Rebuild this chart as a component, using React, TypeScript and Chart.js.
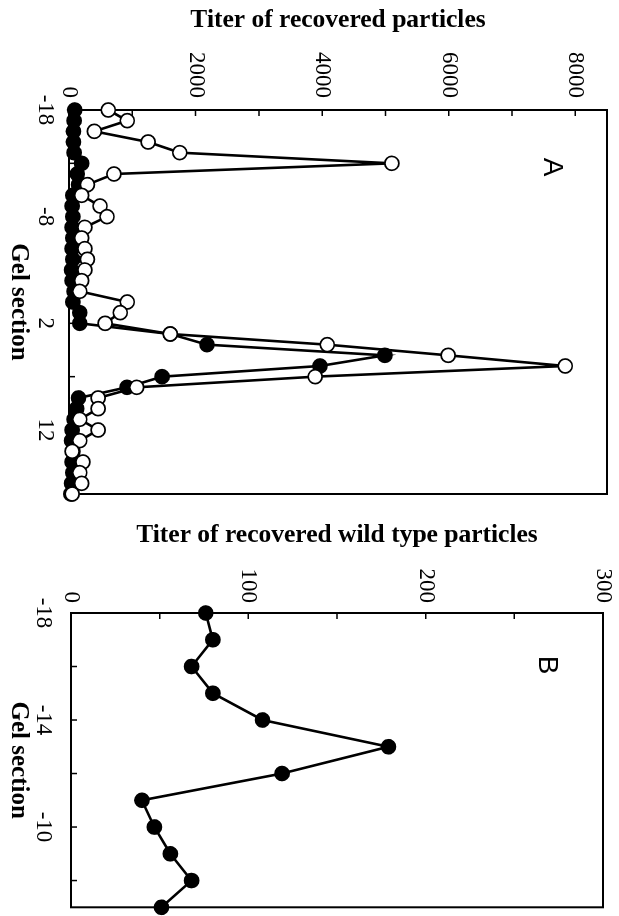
import React, { useEffect, useRef } from 'react';
import { Chart, registerables } from 'chart.js';

Chart.register(...registerables);

// ---------- Data ----------
const gelSectionsA = [-18, -17, -16, -15, -14, -13, -12, -11, -10, -9, -8, -7, -6, -5, -4, -3, -2, -1, 0, 1, 2, 3, 4, 5, 6, 7, 8, 9, 10, 11, 12, 13, 14, 15, 16, 17, 18];
const titerOpenA = [620, 920, 400, 1250, 1750, 5100, 710, 290, 200, 490, 600, 250, 200, 250, 290, 250, 200, 170, 920, 810, 570, 1600, 4080, 5990, 7840, 3890, 1070, 460, 460, 170, 460, 170, 50, 220, 170, 200, 50];
const titerFilledA = [90, 80, 70, 70, 80, 200, 130, 150, 60, 50, 60, 50, 60, 50, 60, 40, 50, 80, 60, 170, 170, 1600, 2180, 4990, 3965, 1470, 916, 150, 120, 80, 50, 40, 60, 50, 60, 40, 30];

const gelSectionsB = [-18, -17, -16, -15, -14, -13, -12, -11, -10, -9, -8, -7];
const titerWildB = [76, 80, 68, 80, 108, 179, 119, 40, 47, 56, 68, 51];

// tick marks / labels
const tickMarksAx = [-18, -13, -8, -3, 2, 7, 12, 17];
const tickLabelsAx = [-18, -8, 2, 12];
const tickMarksAy = [0, 1000, 2000, 3000, 4000, 5000, 6000, 7000, 8000];
const tickLabelsAy = [0, 2000, 4000, 6000, 8000];
const tickMarksBx = [-18, -16, -14, -12, -10, -8];
const tickLabelsBx = [-18, -14, -10];
const tickMarksBy = [0, 50, 100, 150, 200, 250, 300];
const tickLabelsBy = [0, 100, 200, 300];

const SERIF = '"Liberation Serif", "Times New Roman", Times, serif';

const frameTicks = {
  id: 'frameTicks',
  beforeDatasetsDraw(chart: any) {
    const { ctx, chartArea } = chart;
    const { left, right, top, bottom } = chartArea;
    const x = chart.scales.x;
    const y = chart.scales.y;
    ctx.save();
    ctx.strokeStyle = '#000';
    ctx.lineWidth = 2;
    ctx.strokeRect(left, top, right - left, bottom - top);
    ctx.lineWidth = 1.5;
    ctx.beginPath();
    x.ticks.forEach((t: any) => {
      const px = x.getPixelForValue(t.value);
      ctx.moveTo(px, bottom);
      ctx.lineTo(px, bottom - 6);
    });
    y.ticks.forEach((t: any) => {
      const py = y.getPixelForValue(t.value);
      ctx.moveTo(left, py);
      ctx.lineTo(left + 6, py);
    });
    ctx.stroke();
    ctx.restore();
  },
};

const panelLabel = {
  id: 'panelLabel',
  afterDraw(chart: any, _args: any, opts: any) {
    if (!opts || !opts.text) return;
    const { ctx, chartArea } = chart;
    ctx.save();
    ctx.font = '28px "Liberation Sans", Arial, sans-serif';
    ctx.fillStyle = '#000';
    ctx.textAlign = 'center';
    ctx.textBaseline = 'middle';
    ctx.fillText(opts.text, chartArea.left + opts.dx, chartArea.top + opts.dy);
    ctx.restore();
  },
};

function zeroPad(scale: any) {
  scale.paddingTop = 0;
  scale.paddingBottom = 0;
  scale.paddingLeft = 0;
  scale.paddingRight = 0;
}

function makeConfig(p: any): any {
  return {
    type: 'scatter',
    data: { datasets: p.datasets },
    plugins: [frameTicks, panelLabel],
    options: {
      responsive: false,
      animation: false,
      devicePixelRatio: 1,
      layout: { padding: { left: 0, right: p.padRight, top: p.padTop, bottom: 0 } },
      plugins: {
        legend: { display: false },
        tooltip: { enabled: false },
        panelLabel: p.label,
      },
      scales: {
        x: {
          type: 'linear',
          position: 'bottom',
          min: p.xMin,
          max: p.xMax,
          afterBuildTicks: (scale: any) => {
            scale.ticks = p.xTicks.map((v: number) => ({ value: v }));
          },
          afterFit: (scale: any) => {
            scale.height = p.xHeight;
            zeroPad(scale);
          },
          grid: { display: false, drawTicks: false },
          border: { display: false },
          ticks: {
            autoSkip: false,
            maxRotation: 0,
            minRotation: 0,
            padding: p.xTickPad,
            color: '#000',
            font: { family: SERIF, size: 23 },
            callback: (v: number) => (p.xLabels.includes(v) ? String(v) : ''),
          },
          title: {
            display: true,
            text: 'Gel section',
            color: '#000',
            font: { family: SERIF, size: 25, weight: 'bold' },
            padding: { top: 0, bottom: 3 },
          },
        },
        y: {
          type: 'linear',
          position: 'left',
          min: 0,
          max: p.yMax,
          afterBuildTicks: (scale: any) => {
            scale.ticks = p.yTicks.map((v: number) => ({ value: v }));
          },
          ticks: {
            autoSkip: false,
            padding: p.yTickPad,
            color: '#000',
            font: { family: SERIF, size: 23 },
            callback: (v: number) => (p.yLabels.includes(v) ? String(v) : ''),
          },
          afterFit: (scale: any) => {
            scale.width = p.yWidth;
            zeroPad(scale);
          },
          grid: { display: false, drawTicks: false },
          border: { display: false },
          title: {
            display: true,
            text: p.yTitle,
            color: '#000',
            font: { family: SERIF, size: 25.5, weight: 'bold' },
            padding: { top: p.yTitlePad, bottom: 0 },
          },
        },
      },
    },
  };
}

function toPoints(xs: number[], ys: number[]) {
  return xs.map((x, i) => ({ x, y: ys[i] }));
}

const lineStyle = {
  showLine: true,
  borderColor: '#000',
  borderWidth: 2.6,
  pointRadius: 7,
  pointBorderWidth: 1.7,
  pointBorderColor: '#000',
  clip: false,
  tension: 0,
};

function ChartCanvas({ config, width, height, left }: any) {
  const ref = useRef<HTMLCanvasElement | null>(null);
  useEffect(() => {
    if (!ref.current) return;
    const chart = new Chart(ref.current, config);
    return () => chart.destroy();
  }, []);
  return (
    <canvas
      ref={ref}
      width={width}
      height={height}
      style={{ position: 'absolute', left, top: 0, width, height }}
    />
  );
}

export default function App() {
  const configA = makeConfig({
    datasets: [
      {
        ...lineStyle,
        data: toPoints(gelSectionsA, titerOpenA),
        pointBackgroundColor: '#fff',
        backgroundColor: '#fff',
      },
      {
        ...lineStyle,
        data: toPoints(gelSectionsA, titerFilledA),
        pointBackgroundColor: '#000',
        backgroundColor: '#000',
      },
    ],
    padRight: 11,
    padTop: 12,
    xMin: -18,
    xMax: 18,
    xTicks: tickMarksAx,
    xLabels: tickLabelsAx,
    xHeight: 69,
    xTickPad: 10,
    yMax: 8500,
    yTicks: tickMarksAy,
    yLabels: tickLabelsAy,
    yWidth: 110,
    yTickPad: 12,
    yTitle: 'Titer of recovered particles',
    yTitlePad: 5,
    label: { text: 'A', dx: 57, dy: 55 },
  });

  const configB = makeConfig({
    datasets: [
      {
        ...lineStyle,
        data: toPoints(gelSectionsB, titerWildB),
        pointBackgroundColor: '#000',
        backgroundColor: '#000',
      },
    ],
    padRight: 4,
    padTop: 16,
    xMin: -18,
    xMax: -7,
    xTicks: tickMarksBx,
    xLabels: tickLabelsBx,
    xHeight: 71,
    xTickPad: 14,
    yMax: 300,
    yTicks: tickMarksBy,
    yLabels: tickLabelsBy,
    yWidth: 108,
    yTickPad: 10,
    yTitle: 'Titer of recovered wild type particles',
    yTitlePad: 15,
    label: { text: 'B', dx: 52, dy: 56 },
  });

  return (
    <div
      style={{
        position: 'fixed',
        left: 0,
        top: 0,
        width: 916,
        height: 619,
        background: '#fff',
        overflow: 'hidden',
        transformOrigin: '0 0',
        transform: 'translateX(619px) rotate(90deg)',
      }}
    >
      <ChartCanvas config={configA} width={505} height={619} left={0} />
      <ChartCanvas config={configB} width={411} height={619} left={505} />
    </div>
  );
}
